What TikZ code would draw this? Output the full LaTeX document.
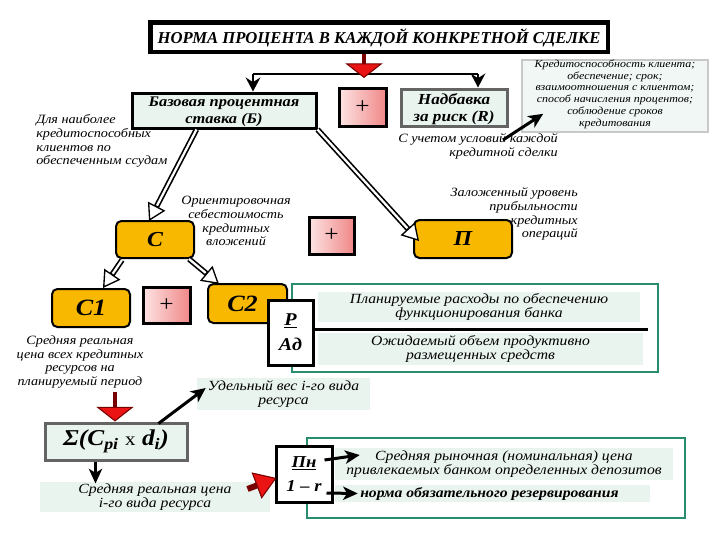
\documentclass[tikz,border=0pt]{standalone}
\usepackage{fontspec}
\setmainfont[FakeStretch=1.12]{Liberation Serif}
\newfontfamily\titlefont{Liberation Serif}
\usetikzlibrary{arrows.meta,fit,calc}
\definecolor{mint}{RGB}{234,244,239}
\definecolor{orng}{RGB}{248,184,0}
\definecolor{grn}{RGB}{40,140,110}
\definecolor{dred}{RGB}{120,0,0}
\definecolor{rred}{RGB}{235,20,20}
\definecolor{pinkA}{RGB}{253,228,228}
\definecolor{pinkB}{RGB}{240,135,135}
\definecolor{gry}{RGB}{100,100,100}
\definecolor{lgry}{RGB}{200,200,200}
\begin{document}
\begin{tikzpicture}[x=0.75pt,y=-0.75pt,font=\itshape,
  box/.style={inner sep=0pt,align=center},
  minttext/.style={box,fill=mint},
  darkbox/.style={box,draw=black,line width=2.25pt,fill=mint},
  graybox/.style={box,draw=gry,line width=2.25pt,fill=mint},
  plusbox/.style={box,draw=black,line width=2.25pt,left color=pinkA,right color=pinkB},
  obox/.style={box,draw=black,line width=1.5pt,fill=orng,rounded corners=4pt},
  wbox/.style={box,draw=black,line width=2.25pt,fill=white},
  gframe/.style={box,draw=grn,line width=1.5pt},
  txt/.style={inner sep=0pt,align=center},
  plustxt/.style={txt,font=\fontsize{17}{17}\selectfont\upshape},
  bigtxt/.style={txt,font=\fontsize{16}{16}\selectfont\bfseries\itshape},
  desc/.style={inner sep=0pt,font=\fontsize{9.5}{10.4}\selectfont\itshape},
  bandtxt/.style={txt,font=\fontsize{10.5}{10.6}\selectfont\itshape},
  thinarrow/.style={line width=1.5pt,-{Stealth[length=10.5pt,width=11pt,inset=3.5pt]}},
  blackarrow/.style={line width=2.25pt,-{Stealth[length=11pt,width=10pt,inset=3pt]}},
  redarrow/.style={draw=dred,line width=3pt,-{Triangle[length=11pt,width=28pt,line width=0.8pt,fill=rred]}},
  redarrowB/.style={draw=dred,line width=4.5pt,-{Triangle[length=16pt,width=21pt,line width=0.8pt,fill=rred]}},
  hollowA/.style={line width=4.2pt,-{Triangle[length=12.5pt,width=14.5pt,line width=1pt,fill=white]}},
  hollowB/.style={white,line width=1.7pt,shorten >=13pt},
]
\useasboundingbox (0,0) rectangle (720,540);

% title
\node[box,draw=black,line width=3pt,fill=white,fit={(150,22)(608,52)}] (T) {};
\draw[line width=0.6pt] ($(T.north west)+(4,4)$) rectangle ($(T.south east)+(-4,-4)$);
\node[txt,font=\titlefont\fontsize{12.5}{14}\selectfont\bfseries\itshape] (Tt) at ($(T.center)+(0,1)$) {НОРМА ПРОЦЕНТА В КАЖДОЙ КОНКРЕТНОЙ СДЕЛКЕ};

% top row
\node[darkbox,fit={(132,93)(316,128)}] (B) {};
\node[txt,font=\fontsize{11}{13}\selectfont\bfseries\itshape] (Bt) at ($(B.center)+(0,1.5)$) {Базовая процентная\\ставка (Б)};
\node[plusbox,fit={(339,88)(386,126)}] (P1) {};
\node[plustxt] (P1t) at (P1.center) {+};
\node[graybox,fit={(401,89)(507,126)}] (R) {};
\node[txt,font=\fontsize{11.5}{13}\selectfont\bfseries\itshape] (Rt) at ($(R.center)+(0,1.5)$) {Надбавка\\за риск (R)};
\node[box,draw=lgry,line width=1.2pt,fill=mint!70,fit={(522,60)(708,132)}] (K) {};
\node[txt,font=\fontsize{8}{8.8}\selectfont\itshape] (Kt) at ($(K.center)+(0,-2)$)
  {Кредитоспособность клиента;\\обеспечение; срок;\\взаимоотношения с клиентом;\\способ начисления процентов;\\соблюдение сроков\\кредитования};

% connectors from title
\coordinate (r1) at (364,78);
\coordinate (hl) at (253,74);
\coordinate (hr) at (478,74);
\draw[line width=1.5pt] (hl) -- (hr);
\draw[thinarrow] (hl) -- (hl |- B.north);
\draw[thinarrow] (hr) -- (hr |- R.north);
\draw[redarrow] (T.south -| r1) -- (r1);

% annotation texts
\node[desc,anchor=north east,align=right] (Ct) at (558,133) {С учетом условий каждой\\кредитной сделки};
\draw[blackarrow] ($(Ct.north east)+(-55,7)$) -- ($(K.south west)+(22,-19)$);
\node[desc,anchor=north west,align=left] (Lt) at (36,114) {Для наиболее\\кредитоспособных\\клиентов по\\обеспеченным ссудам};

% second row
\node[obox,fit={(116,221)(194,258)}] (C) {};
\node[bigtxt] (Ctx) at (C.center) {С};
\node[desc,align=center] (Ot) at (236,221) {Ориентировочная\\себестоимость\\кредитных\\вложений};
\node[plusbox,fit={(309,217)(354,254)}] (P2) {};
\node[plustxt] (P2t) at (P2.center) {+};
\node[obox,fit={(414,220)(512,258)}] (PP) {};
\node[bigtxt] (PPt) at (PP.center) {П};
\node[desc,anchor=north east,align=right] (Zt) at (578,187) {Заложенный уровень\\прибыльности\\кредитных\\операций};

% hollow arrows B -> C, B -> П
\draw[hollowA] ($(B.south west)+(66,0)$) -- ($(C.north west)+(34,1)$);
\draw[hollowB] ($(B.south west)+(66,0)$) -- ($(C.north west)+(34,1)$);
\draw[hollowA] (B.south east) -- ($(PP.west)+(6,2)$);
\draw[hollowB] (B.south east) -- ($(PP.west)+(6,2)$);

% third row
\node[gframe,fit={(292,284)(658,372)}] (G1) {};
\node[minttext,fit={(318,292)(640,322)}] (Pl) {};
\node[bandtxt] (Plt) at (Pl.center) {Планируемые расходы по обеспечению\\функционирования банка};
\node[minttext,fit={(318,333)(643,365)}] (Oz) {};
\node[bandtxt] (Ozt) at (Oz.center) {Ожидаемый объем продуктивно\\размещенных средств};
\draw[line width=2.25pt] ($(Pl.south west)+(-5,7)$) -- ($(Pl.south east)+(8,7)$);
\node[obox,fit={(52,289)(130,327)}] (C1) {};
\node[bigtxt,font=\fontsize{17.5}{17.5}\selectfont\bfseries\itshape] (C1x) at (C1.center) {С1};
\node[plusbox,fit={(143,287)(190,323)}] (P3) {};
\node[plustxt] (P3t) at (P3.center) {+};
\node[obox,fit={(208,284)(287,323)}] (C2) {};
\node[bigtxt,font=\fontsize{17.5}{17.5}\selectfont\bfseries\itshape] (C2x) at ($(C2.center)+(-5,0)$) {С2};
\node[wbox,fit={(268,300)(313,365)}] (PA) {};
\node[txt,font=\fontsize{13.5}{19}\selectfont\bfseries\itshape] (PAt) at (PA.center) {\underline{Р}\\Ад};

\draw[hollowA] ($(C.south west)+(7,1)$) -- ($(C1.north)+(12,0)$);
\draw[hollowB] ($(C.south west)+(7,1)$) -- ($(C1.north)+(12,0)$);
\draw[hollowA] ($(C.south east)+(-6,0)$) -- ($(C2.north west)+(12,1)$);
\draw[hollowB] ($(C.south east)+(-6,0)$) -- ($(C2.north west)+(12,1)$);

\node[desc,align=center] (C1t) at (80,362) {Средняя реальная\\цена всех кредитных\\ресурсов на\\планируемый период};

% sum box
\node[graybox,fit={(45,423)(187,460)}] (S) {};
\node[txt,font=\fontsize{17}{17}\selectfont\bfseries\itshape] (St) at (S.center) {Σ(C\textsubscript{\fontsize{12}{12}\selectfont pi} \textmd{\upshape\fontsize{14}{14}\selectfont x} d\textsubscript{\fontsize{12}{12}\selectfont i})};
\draw[redarrow] ($(S.north)+(-1,-30)$) -- ($(S.north)+(-1,0)$);
\node[minttext,fit={(197,378)(370,410)}] (U) {};
\node[bandtxt] (Ut) at (U.center) {Удельный вес i-го вида\\ресурса};
\draw[blackarrow] ($(S.north east)+(-30,2)$) -- ($(U.west)+(9,-6)$);
\node[minttext,fit={(40,482)(270,512)}] (Sr) {};
\node[bandtxt] (Srt) at (Sr.center) {Средняя реальная цена\\i-го вида ресурса};
\draw[blackarrow] ($(S.south west)+(52,0)$) -- ($(S.south west)+(52,22)$);

% bottom frame
\node[gframe,fit={(307,438)(685,518)}] (G2) {};
\node[minttext,fit={(335,448)(673,480)}] (Rn) {};
\node[bandtxt] (Rnt) at (Rn.center) {Средняя рыночная (номинальная) цена\\привлекаемых банком определенных депозитов};
\node[minttext,fit={(335,485)(650,502)}] (Nr) {};
\node[txt,font=\fontsize{10.5}{11}\selectfont\bfseries\itshape] (Nrt) at ($(Nr.center)+(-3,0)$) {норма обязательного резервирования};
\node[wbox,fit={(276,446)(332,502)}] (N) {};
\node[txt,font=\fontsize{12.5}{18}\selectfont\bfseries\itshape] (Nt) at (N.center) {\underline{Пн}\\1 – r};
\draw[blackarrow] ($(N.east)+(-9,-14)$) -- ($(Rn.west)+(25,-9)$);
\draw[blackarrow] ($(N.east)+(-7,19)$) -- ($(Nr.west)+(23,0)$);
\draw[redarrowB] ($(N.west)+(-27,15)$) -- ($(N.west)+(2,4)$);
\end{tikzpicture}
\end{document}
